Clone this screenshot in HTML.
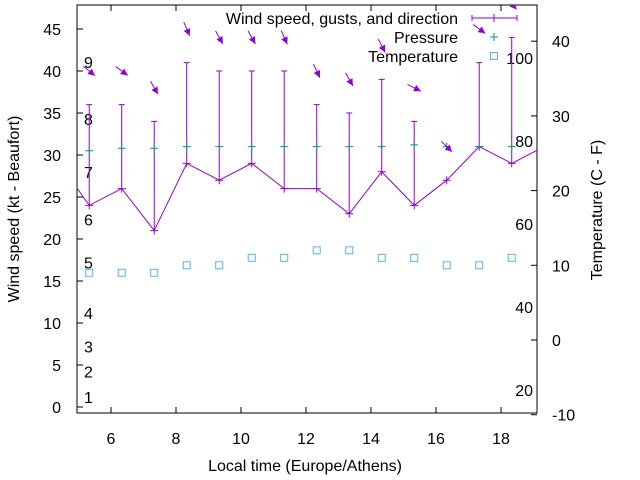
<!DOCTYPE html>
<html><head><meta charset="utf-8"><style>
body{margin:0;background:#fff;}
svg{display:block;font-family:"Liberation Sans",sans-serif;}
</style></head><body>
<svg id="chart" width="640" height="480" viewBox="0 0 640 480" xmlns="http://www.w3.org/2000/svg">
<g id="axes"></g><g id="marks"></g>
</svg>
<script>
const times=[5.33,6.33,7.33,8.33,9.33,10.33,11.33,12.33,13.33,14.33,15.33,16.33,17.33,18.33];
const windSpeed=[24,26,21,29,27,29,26,26,23,28,24,27,31,29];
const lineTimes=[4.33,5.33,6.33,7.33,8.33,9.33,10.33,11.33,12.33,13.33,14.33,15.33,16.33,17.33,18.33,19.33];
const lineSpeed=[29.5,24,26,21,29,27,29,26,26,23,28,24,27,31,29,31];
const gusts=[36,36,34,41,40,40,40,36,35,39,34,27,41,44];
const windDir=[309,306,330,337,331,331,336,335,331,333,297,315,306,319];
const pressure=[30.5,30.8,30.8,31,31,31,31,31,31,31,31.2,31,31,31];
const temperature=[9,9,9,10,10,11,11,12,12,11,11,10,10,11];
const xTicks=[6,8,10,12,14,16,18];
const yTicks=[0,5,10,15,20,25,30,35,40,45];
const y2Ticks=[-10,0,10,20,30,40];
const beaufortLabels=["1","2","3","4","5","6","7","8","9"];
const beaufortAt=[1.2,4.2,7.2,11.2,17.2,22.3,28,34.3,41.1];
const fahrLabels=["20","40","60","80","100"];
const fahrAt=[20,40,60,80,100];

const L=77,R=537,T=5,B=413;
const X=t=>111+(t-6)*32.5;
const Y=v=>407-v*8.4;
const Y2=c=>340-c*7.47;
const NS="http://www.w3.org/2000/svg";
const FS=16;
const axes=document.getElementById('axes'), marks=document.getElementById('marks');
function mk(tag,attrs,parent,text){const e=document.createElementNS(NS,tag);for(const k in attrs)e.setAttribute(k,attrs[k]);if(text!==undefined)e.textContent=text;parent.appendChild(e);return e;}

const defs=mk('defs',{},axes);const cp=mk('clipPath',{id:'pc'},defs);mk('rect',{x:L,y:T,width:R-L,height:B-T},cp);

let e=mk('rect',{x:L,y:T,width:R-L,height:B-T,fill:'none',stroke:'#000','stroke-width':1},axes);


xTicks.forEach(t=>{
  const x=X(t);
  let l=mk('path',{d:`M${x},${B}v-6M${x},${T}v6`,stroke:'#000'},axes);
  
  let tx=mk('text',{x:x,y:444,'text-anchor':'middle','font-size':FS},axes,String(t));
  
});
yTicks.forEach(v=>{
  const y=Y(v);
  let l=mk('path',{d:`M${L},${y}h6`,stroke:'#000'},axes);
  
  let tx=mk('text',{x:61,y:y+6,'text-anchor':'end','font-size':FS},axes,String(v));
  
});
y2Ticks.forEach(v=>{
  const y=Y2(v);
  let l=mk('path',{d:`M${R},${y}h-6`,stroke:'#000'},axes);
  
  let tx=mk('text',{x:552,y:y+6,'font-size':FS},axes,String(v));
  
});
beaufortLabels.forEach((s,i)=>{
  let tx=mk('text',{x:84,y:Y(beaufortAt[i])+6,'font-size':FS},axes,s);
  
});
fahrLabels.forEach((s,i)=>{
  let tx=mk('text',{x:533,y:Y2((fahrAt[i]-32)*5/9)+6,'text-anchor':'end','font-size':FS},axes,s);
  
});
e=mk('text',{x:305,y:471,'text-anchor':'middle','font-size':FS},axes,'Local time (Europe/Athens)');

e=mk('text',{x:0,y:0,'text-anchor':'middle','font-size':FS,transform:'translate(19,209) rotate(-90)'},axes,'Wind speed (kt - Beaufort)');

e=mk('text',{x:0,y:0,'text-anchor':'middle','font-size':FS,transform:'translate(602,210) rotate(-90)'},axes,'Temperature (C - F)');


const g=mk('g',{'clip-path':'url(#pc)'},marks);
const P='#9400d3';
e=mk('polyline',{points:lineTimes.map((t,i)=>X(t)+','+Y(lineSpeed[i])).join(' '),fill:'none',stroke:P,'stroke-width':1},g);

times.forEach((t,i)=>{
  const x=X(t),y0=Y(windSpeed[i]),y1=Y(gusts[i]);
  let b=mk('path',{d:`M${x},${y0}V${y1}M${x-3},${y1}h6M${x-4},${y0}h8M${x},${y0-4}v8`,stroke:P,fill:'none'},g);
  
  const py=Y(pressure[i]);
  let p=mk('path',{d:`M${x-4},${py}h8M${x},${py-4}v8`,stroke:'#009e73',fill:'none'},g);
  
  const ty=Y2(temperature[i]);
  let s=mk('rect',{x:x-3.5,y:ty-3.5,width:7,height:7,fill:'none',stroke:'#56b4e9'},g);
  
  const cy=Y(Math.max(gusts[i],windSpeed[i])+4);
  const r=windDir[i]*Math.PI/180, dx=-Math.sin(r), dy=Math.cos(r), len=15;
  const hx=x+dx*len/2, hy=cy+dy*len/2, tx=x-dx*len/2, ty2=cy-dy*len/2;
  const px=-dy,pyy=dx;
  let a=mk('path',{d:`M${tx},${ty2}L${hx},${hy}`,stroke:P,fill:'none','stroke-width':1},g);
  
  let h=mk('path',{d:`M${hx},${hy}L${hx-dx*7+px*3.5},${hy-dy*7+pyy*3.5}L${hx-dx*7-px*3.5},${hy-dy*7-pyy*3.5}Z`,fill:P},g);
  
});

const lg=mk('g',{},marks);
e=mk('text',{x:458,y:24,'text-anchor':'end','font-size':FS},lg,'Wind speed, gusts, and direction');

e=mk('path',{d:'M472,18h45M472,15v6M517,15v6M494,14v8',stroke:P,fill:'none'},lg);

e=mk('text',{x:458,y:43,'text-anchor':'end','font-size':FS},lg,'Pressure');

e=mk('path',{d:'M490,37h8M494,33v8',stroke:'#009e73',fill:'none'},lg);

e=mk('text',{x:458,y:62,'text-anchor':'end','font-size':FS},lg,'Temperature');

e=mk('rect',{x:490.5,y:52.5,width:7,height:7,fill:'none',stroke:'#56b4e9'},lg);

</script>
</body></html>
